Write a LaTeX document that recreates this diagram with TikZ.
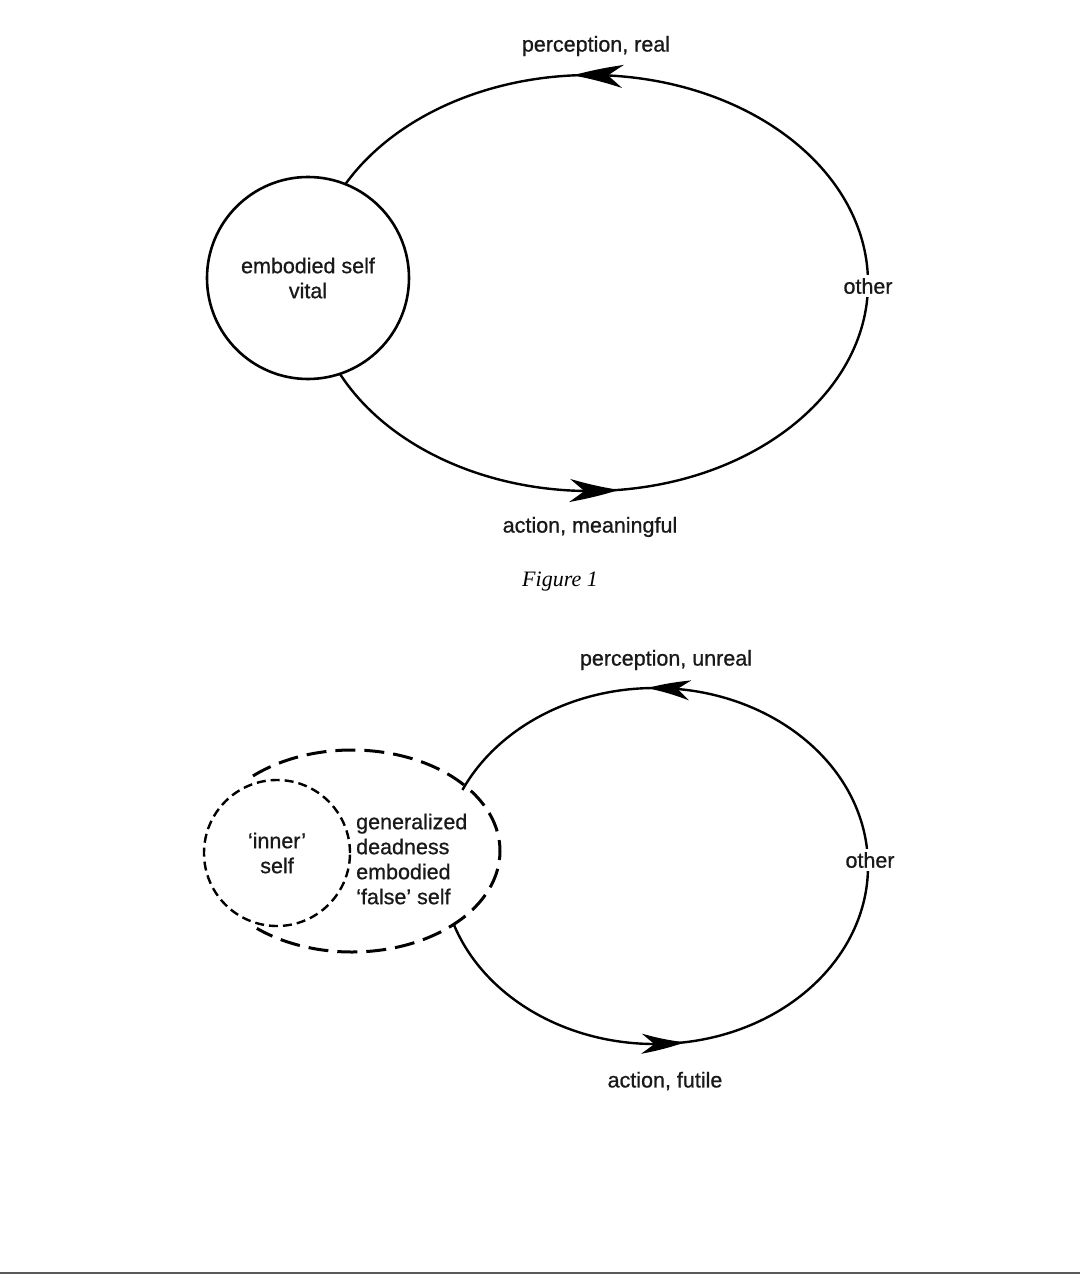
\documentclass[tikz,border=0pt]{standalone}
\usepackage{fontspec}
\setmainfont{Liberation Sans}
\newfontfamily\lblfont[FakeBold=0.8,Ligatures=TeX]{Liberation Sans}
\newfontfamily\figfont{Liberation Serif}
\usetikzlibrary{arrows.meta,bending}
\tikzset{
  lbl/.style={font=\fontsize{21.5}{25}\lblfont, text=black!90, inner sep=1pt},
  loopline/.style={line width=2.4pt, black},
  tipA/.style={-{Stealth[length=50pt,width=23pt,inset=15pt,bend]}},
  tipB/.style={-{Stealth[length=44pt,width=20pt,inset=13pt,bend]}},
  outerdash/.style={line width=3pt, dash pattern=on 20pt off 9pt},
  innerdash/.style={line width=2.4pt, dash pattern=on 9pt off 5pt},
}
\begin{document}
\begin{tikzpicture}[x=1pt,y=-1pt]
\useasboundingbox (0,0) rectangle (1080,1274);
\fill[white] (0,0) rectangle (1080,1274);

% ---------------- Figure 1 ----------------
\draw[loopline,tipA] (590,283) ++(154:278 and 208) arc[start angle=154,end angle=84,x radius=278,y radius=208];
\draw[loopline,tipA] (590,283) ++(87:278 and 208) arc[start angle=87,end angle=-93.5,x radius=278,y radius=208];
\draw[loopline] (590,283) ++(-90.5:278 and 208) arc[start angle=-90.5,end angle=-152,x radius=278,y radius=208];

\node[lbl, circle, draw=black, line width=2.6pt, minimum size=202pt, align=center, fill=white] (self1) at (308,278) {embodied self\\vital};
\node[lbl, fill=white, inner sep=3pt] (other1) at (868,286) {other};
\node[lbl] (perc1) at (596,46) {perception, real};
\node[lbl] (act1) at (590,527) {action, meaningful};
\node[font=\fontsize{22}{26}\selectfont\figfont\itshape] (fig1) at (560,582) {Figure 1};

% ---------------- Figure 2 ----------------
\draw[loopline,tipB] (655,866) ++(161:213 and 178) arc[start angle=161,end angle=81.9,x radius=213,y radius=178];
\draw[loopline,tipB] (655,866) ++(85:213 and 178) arc[start angle=85,end angle=-92.2,x radius=213,y radius=178];
\draw[loopline] (655,866) ++(-89:213 and 178) arc[start angle=-89,end angle=-154.7,x radius=213,y radius=178];

\draw[outerdash] (352,851) ++(-132:148 and 101) arc[start angle=-132,end angle=130,x radius=148,y radius=101];
\node[lbl, circle, draw=black, innerdash, minimum size=146pt, align=center] (inner2) at (277,853) {‘inner’\\self};
\node[lbl, align=left, anchor=west] (false2) at (355,859) {generalized\\deadness\\embodied\\‘false’ self};
\node[lbl, fill=white, inner sep=3pt] (other2) at (870,860) {other};
\node[lbl] (perc2) at (666,660) {perception, unreal};
\node[lbl] (act2) at (665,1081) {action, futile};

% bottom rule
\fill[black!65] (0,1271.5) rectangle (1080,1274);
\end{tikzpicture}
\end{document}
